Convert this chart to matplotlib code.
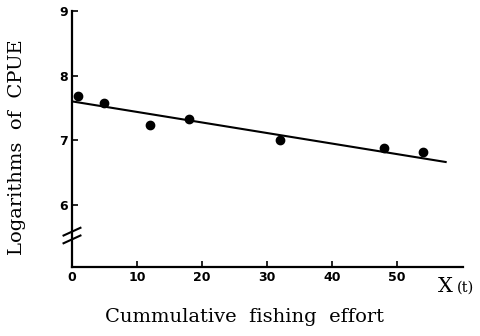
import matplotlib
matplotlib.use("Agg")
import matplotlib.pyplot as plt

# cumulative fishing effort vs log CPUE
effort = [1, 5, 12, 18, 32, 48, 54]
log_cpue = [7.68, 7.58, 7.24, 7.33, 7.00, 6.87, 6.82]
fit_x = [0, 57.5]
fit_y = [7.60, 6.66]
xticks = [0, 10, 20, 30, 40, 50]
yticks = [6, 7, 8, 9]

SERIF = "DejaVu Serif"

fig = plt.figure(figsize=(4.8, 3.36), dpi=100)
ax = fig.add_axes([0.15, 0.205, 0.815, 0.762])

ax.plot(fit_x, fit_y, color="black", lw=1.5, zorder=2)
ax.plot(effort, log_cpue, "o", color="black", ms=6, zorder=3)

ax.set_xlim(0, 60.2)
ax.set_ylim(5.03, 9)
ax.set_xticks(xticks)
ax.set_yticks(yticks)
ax.tick_params(direction="in", length=4, width=1.2, labelsize=9, pad=3)
for lab in ax.get_xticklabels() + ax.get_yticklabels():
    lab.set_fontweight("bold")
for sp in ("top", "right"):
    ax.spines[sp].set_visible(False)
for sp in ("left", "bottom"):
    ax.spines[sp].set_linewidth(1.6)

# axis break on the y axis
for yb in (5.46, 5.58):
    ax.plot([-1.3, 1.3], [yb - 0.06, yb + 0.06], color="black", lw=1.5,
            clip_on=False, zorder=4)

ax.set_ylabel("Logarithms  of  CPUE", family=SERIF, fontsize=14)
ax.yaxis.set_label_coords(-0.118, 0.47)
fig.text(0.51, 0.03, "Cummulative  fishing  effort", family=SERIF,
         fontsize=14, ha="center", va="bottom")
fig.text(0.913, 0.12, "X", family=SERIF, fontsize=15, ha="left", va="bottom")
fig.text(0.952, 0.122, "(t)", family=SERIF, fontsize=10.5, ha="left", va="bottom")

fig.savefig("out.png", facecolor="white")
